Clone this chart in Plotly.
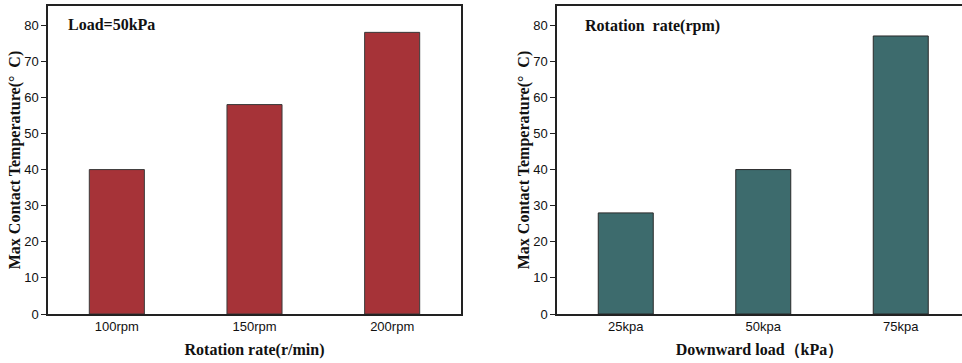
import plotly.graph_objects as go

rot_categories = ["100rpm", "150rpm", "200rpm"]
rot_values = [40, 58, 78]
load_categories = ["25kpa", "50kpa", "75kpa"]
load_values = [28, 40, 77]
y_ticks = [0, 10, 20, 30, 40, 50, 60, 70, 80]

W, H = 962, 363
fig = go.Figure()
fig.add_trace(go.Bar(x=rot_categories, y=rot_values, width=0.4,
                     marker=dict(color="#A63338", line=dict(color="#3a3a3a", width=1)),
                     xaxis="x", yaxis="y", showlegend=False))
fig.add_trace(go.Bar(x=load_categories, y=load_values, width=0.4,
                     marker=dict(color="#3D6B6D", line=dict(color="#2a2a2a", width=1)),
                     xaxis="x2", yaxis="y2", showlegend=False))

tickfont = dict(family="Liberation Sans, Arial", size=13, color="#111")
titlefont = dict(family="Liberation Serif, Times New Roman", size=16, color="#111")
ydom = [(H - 314) / H, (H - 6) / H]

common_x = dict(type="category", showline=True, linecolor="#222", linewidth=1.5,
                ticks="", tickfont=tickfont, showgrid=False, zeroline=False,
                automargin=False)
common_y = dict(range=[0, 85.3], tickvals=y_ticks, showline=True, linecolor="#222",
                linewidth=1.5, ticks="outside", ticklen=5, tickcolor="#222",
                tickfont=tickfont, showgrid=False, zeroline=False, automargin=False,
                title=dict(text="<b>Max Contact Temperature(°  C)</b>", font=titlefont, standoff=0))

fig.update_layout(
    width=W, height=H, margin=dict(l=0, r=0, t=0, b=0),
    plot_bgcolor="white", paper_bgcolor="white", bargap=0.6,
    xaxis=dict(domain=[48 / W, 461 / W], range=[-0.5, 2.5], mirror=True, anchor="y",
               title=dict(text="<b>Rotation rate(r/min)</b>", font=titlefont, standoff=10),
               **common_x),
    yaxis=dict(domain=ydom, mirror=True, anchor="x", **common_y),
    xaxis2=dict(domain=[557 / W, 1.0], range=[-0.5, 2.5 - 7.5 / 137.5], mirror=True, anchor="y2",
                title=dict(text="<b>Downward load（kPa）</b>", font=titlefont, standoff=10),
                **common_x),
    yaxis2=dict(domain=ydom, mirror=False, anchor="x2", **common_y),
    annotations=[
        dict(text="<b>Load=50kPa</b>", x=66 / W, y=(H - 24) / H, xref="paper", yref="paper",
             xanchor="left", yanchor="middle", showarrow=False, font=titlefont),
        dict(text="<b>Rotation  rate(rpm)</b>", x=583 / W, y=(H - 26) / H, xref="paper", yref="paper",
             xanchor="left", yanchor="middle", showarrow=False, font=titlefont),
    ],
)
fig.write_html("out.html")
